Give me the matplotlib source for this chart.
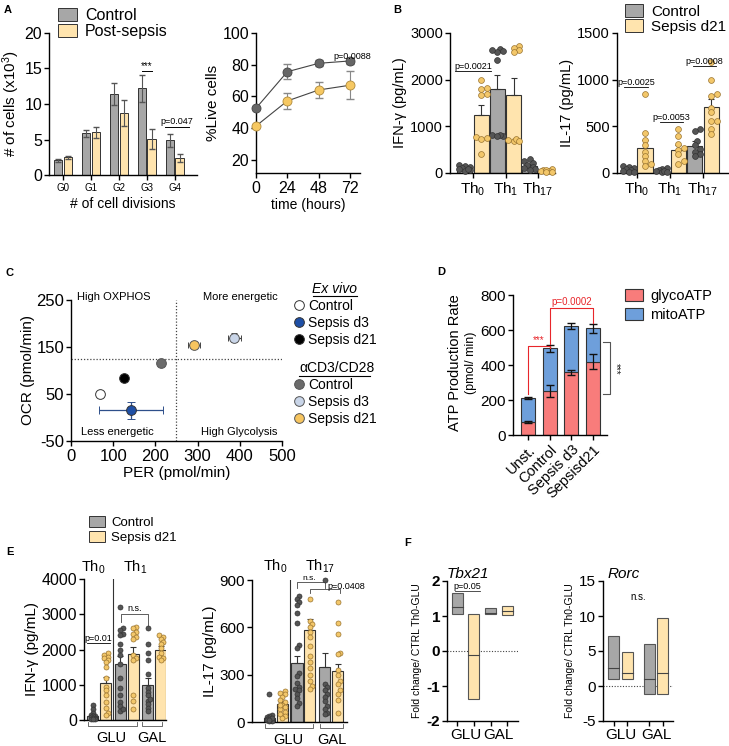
import numpy as np
import matplotlib
matplotlib.use('Agg')
import matplotlib.pyplot as plt
from matplotlib.patches import Patch
from matplotlib.lines import Line2D

plt.rcParams['font.family'] = ['Liberation Sans', 'DejaVu Sans']
plt.rcParams['mathtext.fontset'] = 'custom'
plt.rcParams['mathtext.rm'] = 'Liberation Sans'
plt.rcParams['mathtext.it'] = 'Liberation Sans:italic'
plt.rcParams['mathtext.bf'] = 'Liberation Sans:bold'
plt.rcParams['axes.unicode_minus'] = False
plt.rcParams['axes.linewidth'] = 1.0
plt.rcParams['xtick.major.width'] = 1.0
plt.rcParams['ytick.major.width'] = 1.0
plt.rcParams['xtick.major.size'] = 3.5
plt.rcParams['ytick.major.size'] = 3.5
plt.rcParams['xtick.major.pad'] = 2
plt.rcParams['ytick.major.pad'] = 1.5

# ---------------- DATA ----------------
# A left
divisions = ['G0', 'G1', 'G2', 'G3', 'G4']
a_ctrl = [2.1, 5.9, 11.4, 12.2, 4.9]
a_ctrl_err = [0.2, 0.5, 1.5, 1.9, 0.9]
a_post = [2.5, 6.0, 8.7, 5.1, 2.4]
a_post_err = [0.2, 0.8, 1.8, 1.4, 0.6]
# A right
hours = [0, 24, 48, 72]
live_ctrl = [52.6, 75.6, 80.9, 82.4]
live_ctrl_err = [0.0, 4.8, 2.0, 2.0]
live_post = [41.4, 57.2, 64.1, 67.1]
live_post_err = [0.0, 5.2, 5.2, 8.9]
# B
th_groups = ['Th$_0$', 'Th$_1$', 'Th$_{17}$']
b_ifn_ctrl_mean = [100, 1794, 150]
b_ifn_ctrl_err = [25, 300, 40]
b_ifn_sep_mean = [1243, 1680, 55]
b_ifn_sep_err = [215, 360, 12]
b_ifn_ctrl_pts = [[170, 150, 130, 100, 80, 60, 40, 90],
                  [2650, 2620, 2600, 2640, 2420, 810, 800, 820, 790],
                  [300, 250, 220, 180, 120, 100, 80, 60]]
b_ifn_sep_pts = [[1990, 1830, 1800, 1700, 1670, 780, 760, 720, 400],
                 [2720, 2680, 2630, 2590, 680, 700, 720, 690],
                 [80, 60, 50, 40, 30, 70, 20]]
b_il17_ctrl_mean = [37, 27, 290]
b_il17_ctrl_err = [8, 6, 50]
b_il17_sep_mean = [272, 250, 710]
b_il17_sep_err = [80, 50, 80]
b_il17_ctrl_pts = [[70, 60, 50, 40, 30, 20, 10, 15],
                   [50, 40, 30, 20, 10, 25, 15],
                   [470, 450, 340, 300, 260, 230, 200, 180]]
b_il17_sep_pts = [[850, 430, 350, 300, 230, 180, 130, 100, 80],
                  [470, 400, 310, 270, 250, 200, 130, 100],
                  [1190, 1000, 850, 820, 700, 650, 560, 470, 420, 560]]
# C
c_labels = ['Control', 'Sepsis d3', 'Sepsis d21']
exvivo_per = [69, 142, 126]
exvivo_per_err = [0, 76, 0]
exvivo_ocr = [50, 15, 85]
exvivo_ocr_err = [0, 18, 0]
stim_per = [213, 387, 292]
stim_per_err = [6, 15, 14]
stim_ocr = [115, 170, 154]
stim_ocr_err = [6, 9, 6]
c_per_thresh = 250
c_ocr_thresh = 125
# D
d_groups = ['Unst.', 'Control', 'Sepsis d3', 'Sepsisd21']
d_glyco = [75, 250, 358, 420]
d_glyco_err = [4, 35, 15, 45]
d_total = [210, 495, 622, 610]
d_total_err = [5, 20, 18, 25]
# E
e_ifn_mean = [100, 1050, 1600, 1870, 980, 2000]
e_ifn_err = [40, 180, 220, 200, 200, 100]
e_ifn_pts = [[430, 300, 200, 150, 120, 100, 80, 60, 50, 40, 30, 20],
             [1900, 1850, 1800, 1750, 1700, 1650, 1500, 1200, 950, 850, 700, 500, 350, 200, 150],
             [3200, 2600, 2550, 2450, 2400, 2150, 2000, 1850, 1600, 1200, 900, 700, 500, 400, 250, 300],
             [2650, 2600, 2500, 2450, 2350, 2300, 1850, 1750, 1700, 700, 550, 300],
             [2600, 2150, 1900, 1700, 1300, 900, 800, 700, 550, 450, 350, 250, 600],
             [2400, 2350, 2300, 2200, 2150, 2050, 1900, 1800, 1750, 1700]]
e_il17_mean = [25, 115, 375, 580, 350, 325]
e_il17_err = [10, 20, 45, 70, 90, 40]
e_il17_pts = [[180, 45, 35, 30, 25, 20, 15, 10, 8, 5, 28, 12],
              [195, 185, 175, 160, 140, 125, 110, 95, 80, 65, 50, 35, 25, 105],
              [800, 780, 760, 740, 690, 630, 490, 470, 310, 290, 250, 225, 210, 200, 180, 150, 120, 100],
              [780, 640, 620, 600, 570, 540, 480, 420, 380, 340, 300, 260, 230, 210],
              [900, 240, 220, 200, 180, 160, 130, 100, 80, 60, 50],
              [760, 630, 560, 440, 430, 330, 300, 260, 240, 200, 180, 140, 60]]
# F  (low, high, median) for GLU-ctrl, GLU-sepsis, GAL-ctrl, GAL-sepsis
f_media = ['GLU', 'GAL']
tbx_low = [1.05, -1.38, 1.05, 1.03]
tbx_high = [1.65, 1.05, 1.22, 1.28]
tbx_mid = [1.25, -0.10, 1.08, 1.13]
rorc_low = [1.0, 1.0, -1.2, -1.1]
rorc_high = [7.2, 4.9, 6.0, 9.7]
rorc_mid = [2.6, 1.9, 1.0, 1.8]

# ---------------- STYLE ----------------
GRAY_BAR = '#A7A7A7'
YEL_BAR = '#FFE4AE'
EDGE = '#333333'
GRAY_DOT = '#555555'
YEL_DOT = '#F3C76A'
YEL_DOT_EDGE = '#9A7430'

W, H = 729, 746
fig = plt.figure(figsize=(W / 100, H / 100), dpi=100)


def add_ax(x0, x1, yt, yb):
    a = fig.add_axes([x0 / W, 1 - yb / H, (x1 - x0) / W, (yb - yt) / H])
    a.spines['top'].set_visible(False)
    a.spines['right'].set_visible(False)
    return a


def fp(x, y):
    return (x / W, 1 - y / H)


def ftext(x, y, s, **kw):
    return fig.text(x / W, 1 - y / H, s, **kw)


def swarm_x(ax, xc, vals, d_px, max_half_px):
    vals = np.asarray(vals, float)
    disp = ax.transData.transform(np.column_stack([np.full(len(vals), xc), vals]))
    x0 = disp[0, 0]
    order = np.argsort(vals)
    placed = []
    out = np.zeros(len(vals))
    step = d_px * 0.5
    kmax = int(max_half_px // step)
    ks = [0]
    for k in range(1, kmax + 1):
        ks += [k, -k]
    for i in order:
        y = disp[i, 1]
        best = None
        bestd = -1
        for k in ks:
            xx = x0 + k * step
            dmin = min([np.hypot(xx - px, y - py) for px, py in placed] + [1e9])
            if dmin >= d_px * 0.75:
                best = xx
                break
            if dmin > bestd:
                bestd = dmin
                best = xx
        placed.append((best, y))
        out[i] = best
    inv = ax.transData.inverted()
    return inv.transform(np.column_stack([out, disp[:, 1]]))[:, 0]


def bars_with_points(ax, xs, means, errs, pts, colors, dotcols, dotedges, width, ms, d_px, half_px):
    for x, m, e, p, c, dc, de in zip(xs, means, errs, pts, colors, dotcols, dotedges):
        ax.bar(x, m, width, color=c, edgecolor=EDGE, lw=0.8, zorder=1)
        ax.errorbar(x, m, yerr=[[0], [e]], fmt='none', ecolor=EDGE, elinewidth=0.8,
                    capsize=2.5, capthick=0.8, zorder=2)
        jx = swarm_x(ax, x, p, d_px, half_px)
        ax.plot(jx, p, 'o', ms=ms, mfc=dc, mec=de, mew=0.5, zorder=3, clip_on=False, ls='none')


def bracket(ax, x1, x2, y, text, fs=6.5, color='k', drop=0.0, lw=0.6, ty=None):
    ax.plot([x1, x1, x2, x2], [y - drop, y, y, y - drop], color=color, lw=lw, clip_on=False)
    ax.text((x1 + x2) / 2, y if ty is None else ty, text, ha='center', va='bottom',
            fontsize=fs, color=color, clip_on=False)


# ---------------- PANEL A (left) ----------------
ax = add_ax(49, 197, 33, 175)
x = np.arange(len(divisions))
ax.bar(x - 0.17, a_ctrl, 0.3, color=GRAY_BAR, edgecolor=EDGE, lw=0.7)
ax.bar(x + 0.17, a_post, 0.3, color=YEL_BAR, edgecolor=EDGE, lw=0.7)
ax.errorbar(x - 0.17, a_ctrl, yerr=a_ctrl_err, fmt='none', ecolor='#555555', elinewidth=0.8, capsize=2.5)
ax.errorbar(x + 0.17, a_post, yerr=a_post_err, fmt='none', ecolor='#555555', elinewidth=0.8, capsize=2.5)
ax.set_xlim(-0.5, 4.79)
ax.set_ylim(0, 20)
ax.set_xticks(x, divisions, fontsize=7)
ax.set_yticks([0, 5, 10, 15, 20])
ax.tick_params(axis='y', labelsize=11.5)
ax.set_xlabel('# of cell divisions', fontsize=10, labelpad=3)
ax.set_ylabel('# of cells (x10$^3$)', fontsize=11, labelpad=2)
ax.plot([2.83, 3.17], [14.6, 14.6], color='k', lw=0.7)
ax.text(3.0, 14.7, '***', ha='center', va='bottom', fontsize=7)
ax.plot([3.65, 4.5], [6.7, 6.7], color='k', lw=0.7)
ax.text(4.08, 6.9, 'p=0.047', ha='center', va='bottom', fontsize=6.5)
ax.legend(handles=[Patch(facecolor=GRAY_BAR, edgecolor=EDGE, lw=0.7),
                   Patch(facecolor=YEL_BAR, edgecolor=EDGE, lw=0.7)],
          labels=['Control', 'Post-sepsis'], loc='upper left',
          bbox_to_anchor=fp(58, 8), bbox_transform=fig.transFigure, fontsize=11.5,
          frameon=False, handlelength=1.2, handleheight=0.9, handletextpad=0.5,
          labelspacing=0.05, borderpad=0, borderaxespad=0)

# ---------------- PANEL A (right) ----------------
ax = add_ax(256, 360, 33, 173)
ax.errorbar(hours, live_ctrl, yerr=live_ctrl_err, fmt='none', ecolor='#888888', elinewidth=0.8, capsize=3)
ax.errorbar(hours, live_post, yerr=live_post_err, fmt='none', ecolor='#888888', elinewidth=0.8, capsize=3)
ax.plot(hours, live_ctrl, '-o', color='#444444', lw=0.8, ms=6.5, mfc='#666666', mec='#444444',
        mew=0.6, clip_on=False, zorder=3)
ax.plot(hours, live_post, '-o', color='#444444', lw=0.8, ms=6.5, mfc='#F6C862', mec='#B08A3A',
        mew=0.6, clip_on=False, zorder=3)
ax.set_xlim(0, 79.7)
ax.set_ylim(11.8, 100)
ax.set_xticks(hours)
ax.set_yticks([20, 40, 60, 80, 100])
ax.tick_params(labelsize=11.5)
ax.set_xlabel('time (hours)', fontsize=10, labelpad=2)
ax.set_ylabel('%Live cells', fontsize=11, labelpad=2)
ax.text(73.5, 85, 'p=0.0088', ha='center', va='center', fontsize=6.5, clip_on=False)

# ---------------- PANEL B (left) ----------------
ax = add_ax(450, 555, 33, 173)
ax.set_xlim(-0.71, 2.52)
ax.set_ylim(0, 3000)
g = np.arange(3)
xs = list(g - 0.25) + list(g + 0.25)
bars_with_points(ax, xs, b_ifn_ctrl_mean + b_ifn_sep_mean, b_ifn_ctrl_err + b_ifn_sep_err,
                 b_ifn_ctrl_pts + b_ifn_sep_pts, [GRAY_BAR] * 3 + [YEL_BAR] * 3,
                 [GRAY_DOT] * 3 + [YEL_DOT] * 3, ['#333333'] * 3 + [YEL_DOT_EDGE] * 3,
                 0.46, 4.2, 5.5, 6.5)
ax.set_xticks(g, th_groups, fontsize=11)
ax.set_yticks([0, 1000, 2000, 3000])
ax.tick_params(axis='y', labelsize=10.5)
ax.set_ylabel('IFN-γ (pg/mL)', fontsize=10.5, labelpad=2)
bracket(ax, -0.55, 0.55, 2190, 'p=0.0021')

# ---------------- PANEL B (right) ----------------
ax = add_ax(617, 728, 33, 173)
ax.set_xlim(-0.6, 2.76)
ax.set_ylim(0, 1500)
bars_with_points(ax, xs, b_il17_ctrl_mean + b_il17_sep_mean, b_il17_ctrl_err + b_il17_sep_err,
                 b_il17_ctrl_pts + b_il17_sep_pts, [GRAY_BAR] * 3 + [YEL_BAR] * 3,
                 [GRAY_DOT] * 3 + [YEL_DOT] * 3, ['#333333'] * 3 + [YEL_DOT_EDGE] * 3,
                 0.46, 4.2, 5.5, 6.5)
ax.set_xticks(g, th_groups, fontsize=11)
ax.set_yticks([0, 500, 1000, 1500])
ax.tick_params(axis='y', labelsize=10.5)
ax.set_ylabel('IL-17 (pg/mL)', fontsize=10.5, labelpad=2)
bracket(ax, -0.4, 0.35, 921, 'p=0.0025')
bracket(ax, 0.7, 1.4, 546, 'p=0.0053')
bracket(ax, 1.7, 2.4, 1146, 'p=0.0008')
ax.legend(handles=[Patch(facecolor=GRAY_BAR, edgecolor=EDGE, lw=0.7),
                   Patch(facecolor=YEL_BAR, edgecolor=EDGE, lw=0.7)],
          labels=['Control', 'Sepsis d21'], loc='upper left',
          bbox_to_anchor=fp(625, 4), bbox_transform=fig.transFigure, fontsize=11,
          frameon=False, handlelength=1.2, handleheight=0.9, handletextpad=0.5,
          labelspacing=0.05, borderpad=0, borderaxespad=0)

# ---------------- PANEL C ----------------
ax = add_ax(71, 282, 300, 441)
ax.set_xlim(0, 500)
ax.set_ylim(-50, 250)
ax.axvline(c_per_thresh, color='#444444', ls=(0, (1, 1.5)), lw=0.9)
ax.axhline(c_ocr_thresh, color='#444444', ls=(0, (1, 1.5)), lw=0.9)
ex_cols = ['white', '#1E4FA6', '#000000']
st_cols = ['#6B6B6B', '#C9D5E8', '#F7C55F']
err_cols_ex = ['#444444', '#2E4F8A', '#222222']
for i in range(3):
    ax.errorbar(exvivo_per[i], exvivo_ocr[i], xerr=exvivo_per_err[i], yerr=exvivo_ocr_err[i],
                fmt='o', ms=7, mfc=ex_cols[i], mec='#333333', mew=0.7, ecolor=err_cols_ex[i],
                elinewidth=0.9, capsize=3, zorder=3)
    ax.errorbar(stim_per[i], stim_ocr[i], xerr=stim_per_err[i], yerr=stim_ocr_err[i],
                fmt='o', ms=7, mfc=st_cols[i], mec='#555555', mew=0.7, ecolor='#444444',
                elinewidth=0.9, capsize=2.5, zorder=3)
ax.set_xticks([0, 100, 200, 300, 400, 500])
ax.set_yticks([-50, 50, 150, 250])
ax.tick_params(labelsize=12)
ax.set_xlabel('PER (pmol/min)', fontsize=11, labelpad=2)
ax.set_ylabel('OCR (pmol/min)', fontsize=11, labelpad=1)
ax.text(14, 257, 'High OXPHOS', fontsize=8, ha='left', va='center')
ax.text(490, 257, 'More energetic', fontsize=8, ha='right', va='center')
ax.text(24, -31, 'Less energetic', fontsize=8, ha='left', va='center')
ax.text(490, -31, 'High Glycolysis', fontsize=8, ha='right', va='center')
# legend C
ftext(335, 289, 'Ex vivo', fontsize=10, style='italic', ha='center', va='center')
fig.add_artist(Line2D([313 / W, 357 / W], [1 - 296 / H, 1 - 296 / H], color='k', lw=0.8))
ftext(299, 368, 'αCD3/CD28', fontsize=10, ha='left', va='center')
fig.add_artist(Line2D([299 / W, 370 / W], [1 - 376 / H, 1 - 376 / H], color='k', lw=0.8))
h_ex = [Line2D([], [], ls='none', marker='o', ms=7, mfc=c, mec='#333333', mew=0.7) for c in ex_cols]
h_st = [Line2D([], [], ls='none', marker='o', ms=7, mfc=c, mec='#555555', mew=0.7) for c in st_cols]
leg1 = ax.legend(h_ex, c_labels, loc='upper left', bbox_to_anchor=fp(295, 299),
                 bbox_transform=fig.transFigure, fontsize=10, frameon=False, handlelength=0.6,
                 handletextpad=0.35, labelspacing=0.22, borderpad=0, borderaxespad=0)
ax.add_artist(leg1)
ax.legend(h_st, c_labels, loc='upper left', bbox_to_anchor=fp(295, 378),
          bbox_transform=fig.transFigure, fontsize=10, frameon=False, handlelength=0.6,
          handletextpad=0.35, labelspacing=0.22, borderpad=0, borderaxespad=0)

# ---------------- PANEL D ----------------
GLY = '#F87C7B'
MITO = '#6E9FDB'
ax = add_ax(513, 607, 295, 435)
xd = np.arange(len(d_groups))
mito = [t - gl for t, gl in zip(d_total, d_glyco)]
ax.bar(xd, d_glyco, 0.65, color=GLY, edgecolor=EDGE, lw=0.8)
ax.bar(xd, mito, 0.65, bottom=d_glyco, color=MITO, edgecolor=EDGE, lw=0.8)
ax.errorbar(xd, d_glyco, yerr=d_glyco_err, fmt='none', ecolor='#111111', elinewidth=0.9, capsize=3)
ax.errorbar(xd, d_total, yerr=d_total_err, fmt='none', ecolor='#111111', elinewidth=0.9, capsize=3)
ax.set_xlim(-0.69, 3.64)
ax.set_ylim(0, 800)
ax.set_yticks([0, 200, 400, 600, 800])
ax.tick_params(axis='y', labelsize=11)
ax.set_xticks(xd, d_groups, fontsize=10.5, rotation=45, ha='right', rotation_mode='anchor')
RED = '#E8262B'
ax.plot([0, 0, 1, 1], [235, 510, 510, 500], color=RED, lw=0.8, clip_on=False)
ax.text(0.5, 512, '***', color=RED, fontsize=7, ha='center', va='bottom')
ax.plot([1, 1, 3, 3], [520, 728, 728, 640], color=RED, lw=0.8, clip_on=False)
ax.text(2, 733, 'p=0.0002', color=RED, fontsize=7, ha='center', va='bottom')
ax.plot([3.45, 3.78, 3.78, 3.45], [530, 530, 232, 232], color='#555555', lw=0.8, clip_on=False)
ax.text(4.05, 381, '***', color='#222222', fontsize=7, ha='center', va='center', rotation=-90,
        clip_on=False)
ftext(455, 363, 'ATP Production Rate', fontsize=10.5, rotation=90, ha='center', va='center')
ftext(471, 363, '(pmol/ min)', fontsize=9, rotation=90, ha='center', va='center')
ax.legend(handles=[Patch(facecolor=GLY, edgecolor=EDGE, lw=0.8),
                   Patch(facecolor=MITO, edgecolor=EDGE, lw=0.8)],
          labels=['glycoATP', 'mitoATP'], loc='upper left',
          bbox_to_anchor=fp(625, 289), bbox_transform=fig.transFigure, fontsize=10.5,
          frameon=False, handlelength=1.2, handleheight=0.9, handletextpad=0.55,
          labelspacing=0.35, borderpad=0, borderaxespad=0)


def draw_glu_gal(ax, glu_rng, gal_rng, glu_x, gal_x):
    tr = ax.get_xaxis_transform()
    for (a, b) in (glu_rng, gal_rng):
        ax.plot([a, a, b, b], [-0.015, -0.04, -0.04, -0.015], color='#555555', lw=0.6,
                transform=tr, clip_on=False)
    ax.text(glu_x, -0.075, 'GLU', transform=tr, ha='center', va='top', fontsize=10.5)
    ax.text(gal_x, -0.075, 'GAL', transform=tr, ha='center', va='top', fontsize=10.5)


E_COLS = [GRAY_BAR, YEL_BAR] * 3
E_DOTS = [GRAY_DOT, YEL_DOT] * 3
E_DEDGE = ['#333333', YEL_DOT_EDGE] * 3
ge = np.repeat(np.arange(3), 2) + np.tile([-0.236, 0.236], 3)

# ---------------- PANEL E (left) ----------------
ax = add_ax(84, 166, 579, 720)
ax.set_xlim(-0.56, 2.42)
ax.set_ylim(0, 4000)
bars_with_points(ax, ge, e_ifn_mean, e_ifn_err, e_ifn_pts, E_COLS, E_DOTS, E_DEDGE, 0.4, 3.6, 4.6, 4.5)
ax.plot([0.49, 0.49], [0, 4000], color='#333333', lw=0.8)
ax.set_xticks([])
ax.set_yticks([0, 1000, 2000, 3000, 4000])
ax.tick_params(axis='y', labelsize=11.5)
ax.set_ylabel('IFN-γ (pg/mL)', fontsize=11, labelpad=2)
bracket(ax, -0.45, 0.38, 2180, 'p=0.01')
ax.plot([0.8, 0.8, 1.76, 1.76], [2780, 3000, 3000, 2620], color='#444444', lw=0.6)
ax.text(1.28, 3030, 'n.s.', fontsize=6.5, ha='center', va='bottom')
draw_glu_gal(ax, (-0.42, 1.36), (1.55, 2.27), 0.45, 1.91)
ftext(93, 567, 'Th$_0$', fontsize=10.5, ha='center', va='center')
ftext(135, 567, 'Th$_1$', fontsize=10.5, ha='center', va='center')
ax.legend(handles=[Patch(facecolor=GRAY_BAR, edgecolor=EDGE, lw=0.7),
                   Patch(facecolor=YEL_BAR, edgecolor=EDGE, lw=0.7)],
          labels=['Control', 'Sepsis d21'], loc='upper left',
          bbox_to_anchor=fp(89, 516), bbox_transform=fig.transFigure, fontsize=9.5,
          frameon=False, handlelength=1.2, handleheight=0.9, handletextpad=0.5,
          labelspacing=0.15, borderpad=0, borderaxespad=0)

# ---------------- PANEL E (right) ----------------
ax = add_ax(252, 347, 580, 722)
ax.set_xlim(-0.87, 2.58)
ax.set_ylim(0, 900)
bars_with_points(ax, ge, e_il17_mean, e_il17_err, e_il17_pts, E_COLS, E_DOTS, E_DEDGE, 0.4, 3.6, 4.6, 4.5)
ax.plot([0.51, 0.51], [0, 900], color='#333333', lw=0.8)
ax.set_xticks([])
ax.set_yticks([0, 300, 600, 900])
ax.tick_params(axis='y', labelsize=11)
ax.set_ylabel('IL-17 (pg/mL)', fontsize=11, labelpad=2)
ax.plot([0.76, 0.76, 1.77, 1.77], [850, 885, 885, 850], color='#444444', lw=0.6, clip_on=False)
ax.text(1.2, 887, 'n.s.', fontsize=6, ha='center', va='bottom')
ax.plot([1.24, 1.24, 2.32, 2.32], [815, 845, 845, 815], color='#444444', lw=0.6, clip_on=False)
ax.text(2.55, 830, 'p=0.0408', fontsize=6.5, ha='center', va='bottom', clip_on=False)
draw_glu_gal(ax, (-0.4, 1.35), (1.6, 2.44), 0.44, 2.04)
ftext(275, 566, 'Th$_0$', fontsize=10.5, ha='center', va='center')
ftext(320, 566, 'Th$_{17}$', fontsize=10.5, ha='center', va='center')

# ---------------- PANEL F ----------------
F_COLS = [GRAY_BAR, YEL_BAR, GRAY_BAR, YEL_BAR]


def floating(ax, low, high, mid, offs, width):
    xs = np.repeat(np.arange(2), 2) + np.tile([-offs, offs], 2)
    for x, lo, hi, md, c in zip(xs, low, high, mid, F_COLS):
        ax.bar(x, hi - lo, width, bottom=lo, color=c, edgecolor='#555555', lw=0.8, zorder=2)
        ax.plot([x - width / 2, x + width / 2], [md, md], color='#444444', lw=0.8, zorder=3)
    ax.set_xticks(xs)
    ax.set_xticklabels([])
    ax.set_xticks(np.arange(2), minor=True)
    ax.set_xticklabels(f_media, minor=True, fontsize=11)
    ax.tick_params(axis='x', which='minor', length=0, pad=5)
    return xs


ax = add_ax(447, 518, 581, 721)
ax.set_xlim(-0.55, 1.57)
ax.set_ylim(-2, 2)
floating(ax, tbx_low, tbx_high, tbx_mid, 0.25, 0.33)
ax.axhline(0, color='#444444', ls=(0, (1, 1.5)), lw=0.8, zorder=1)
ax.set_yticks([-2, -1, 0, 1, 2])
ax.set_yticklabels(['-2', '-1', '0', '1', '2'], fontsize=11, fontweight='bold')
ax.set_ylabel('Fold change/ CTRL Th0-GLU', fontsize=7.5, labelpad=3)
ax.text(0.3, 1.0, 'Tbx21', style='italic', fontsize=11, transform=ax.transAxes, ha='center',
        va='bottom')
ax.plot([-0.31, 0.43], [1.71, 1.71], color='#333333', lw=0.6)
ax.text(0.06, 1.72, 'p=0.05', fontsize=6.5, ha='center', va='bottom')

ax = add_ax(603, 673, 581, 721)
ax.set_xlim(-0.49, 1.48)
ax.set_ylim(-5, 15)
floating(ax, rorc_low, rorc_high, rorc_mid, 0.19, 0.31)
ax.axhline(0, color='#444444', ls=(0, (1, 1.5)), lw=0.8, zorder=1)
ax.set_yticks([-5, 0, 5, 10, 15])
ax.tick_params(axis='y', labelsize=11)
ax.set_ylabel('Fold change/ CTRL Th0-GLU', fontsize=7.5, labelpad=3)
ax.text(0.29, 1.0, 'Rorc', style='italic', fontsize=11, transform=ax.transAxes, ha='center',
        va='bottom')
ax.text(0.49, 12.7, 'n.s.', fontsize=7, ha='center', va='center')

# ---------------- panel letters ----------------
for lx, ly, s in [(8, 10, 'A'), (397, 10, 'B'), (10, 273, 'C'), (441, 272, 'D'),
                  (10, 552, 'E'), (408, 543, 'F')]:
    ftext(lx, ly, s, fontsize=8, fontweight='bold', ha='center', va='center')

fig.savefig('out.png', dpi=100)
